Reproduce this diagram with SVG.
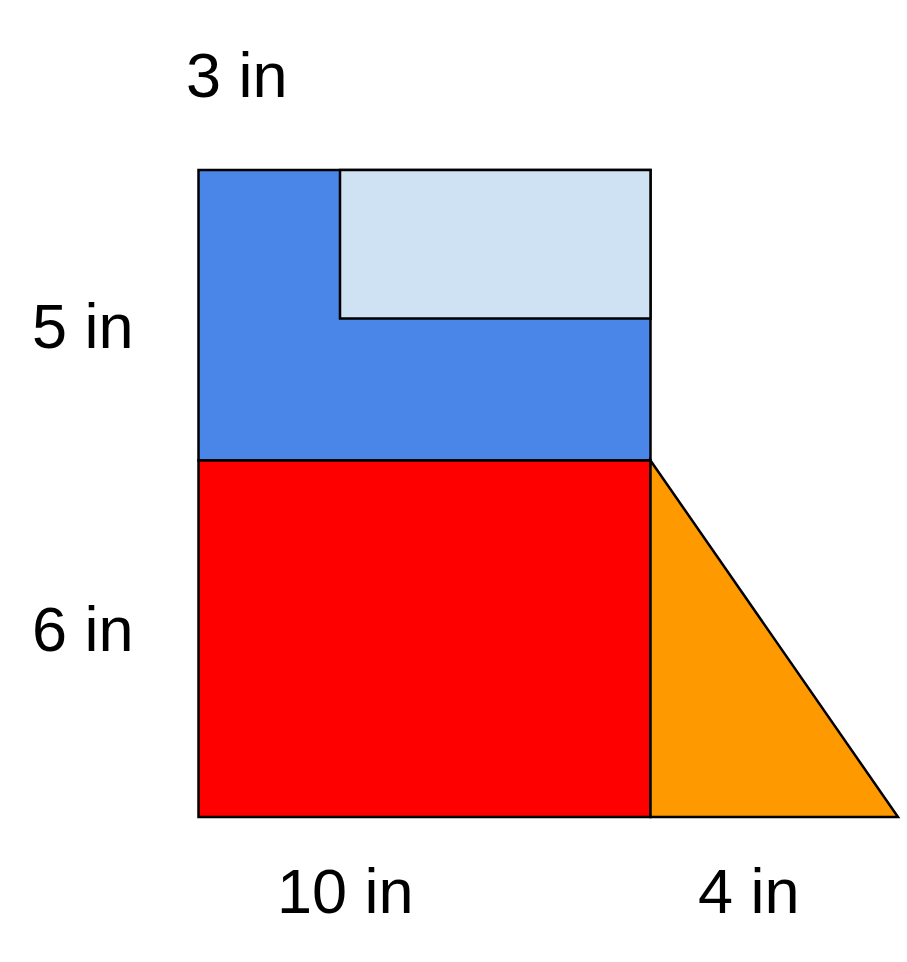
<svg xmlns="http://www.w3.org/2000/svg" width="907" height="962" viewBox="0 0 907 962">
<style>
.s{stroke:#000;stroke-width:2.5;stroke-linejoin:miter}
.t{font-family:"Liberation Sans",Arial,sans-serif;font-size:63px;fill:#000}
</style>
<rect width="907" height="962" fill="#fff"/>
<g id="blue"><rect class="s" x="198.5" y="170" width="452" height="290.5" fill="#4a86e8"/></g>
<g id="lightblue"><rect class="s" x="340" y="170" width="310.5" height="148.5" fill="#cfe2f3"/></g>
<g id="red"><rect class="s" x="198.5" y="460.5" width="452" height="356.5" fill="#ff0000"/></g>
<g id="triangle"><polygon class="s" points="650.5,460.5 898,817 650.5,817" fill="#ff9900"/></g>
<g id="labels">
<text class="t" x="186" y="97">3 in</text>
<text class="t" x="32" y="348">5 in</text>
<text class="t" x="32" y="651">6 in</text>
<text class="t" x="277" y="913">10 in</text>
<text class="t" x="698" y="913">4 in</text>
</g>
</svg>
